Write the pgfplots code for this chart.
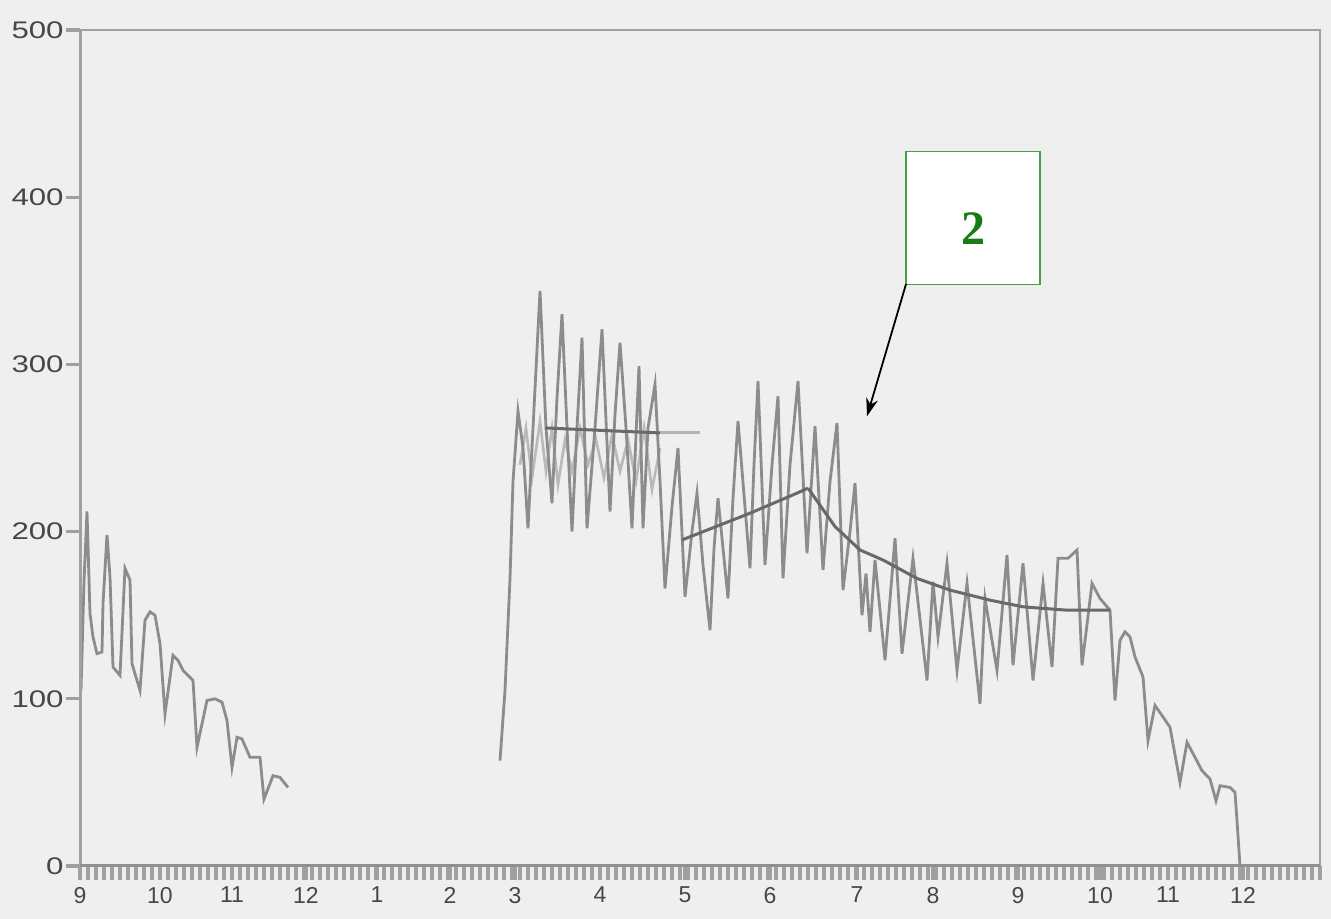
\documentclass[border=0pt]{standalone}
\usepackage{pgfplots}
\pgfplotsset{compat=1.18}
\usepackage{fontspec}
\setmainfont{Liberation Sans}
\newfontfamily\ytickfont[FakeStretch=1.3]{Liberation Sans}
\newfontfamily\annfont{Liberation Serif}
\usetikzlibrary{arrows.meta}
\definecolor{bgc}{RGB}{239,239,239}
\definecolor{linec}{RGB}{140,140,140}
\definecolor{lightc}{RGB}{185,185,185}
\definecolor{trendc}{RGB}{105,105,105}
\definecolor{framec}{RGB}{160,160,160}
\definecolor{boxgreen}{RGB}{70,160,70}
\definecolor{txtgreen}{RGB}{20,125,20}
\begin{document}
\begin{tikzpicture}
\fill[bgc] (-40pt,-26.5pt) rectangle (625.5pt,433pt);
\begin{axis}[
  scale only axis,
  width=620pt, height=418pt,
  xmin=80, xmax=1320, ymin=0, ymax=500,
  axis line style={draw=framec, line width=1.1pt},
  xtick={80,160,232,306,377,450,515,600,685,770,857,933,1018,1100,1168,1243},
  xticklabels={9,10,11,12,1,2,3,4,5,6,7,8,9,10,11,12},
  minor xtick={80,88,...,1320},
  ytick={0,100,200,300,400,500},
  tick align=outside,
  major tick length=7pt, minor tick length=7pt,
  every tick/.style={draw=framec, line width=1.6pt},
  x tick label style={font=\fontsize{11.5}{12}\selectfont, text=black!72},
  y tick label style={font=\ytickfont\fontsize{12}{12}\selectfont, text=black!72, inner sep=1pt},
  /pgf/number format/assume math mode=true,
  xtick pos=bottom, ytick pos=left,
  clip=true,
]
% lighter overlapping trace (3--5)
\addplot[lightc, line width=1.3pt] coordinates {
(520,240) (526,262) (532,232) (540,266) (546,236) (552,262) (558,228) (565,255)
(572,236) (580,262) (588,240) (596,255) (604,232) (612,258) (620,236) (628,255)
(636,230) (644,262) (652,225) (660,250)
};
% Season 1
\addplot[linec, line width=1.4pt] coordinates {
(81,105) (84,170) (87,212) (90,151) (93,137) (97,127) (102,128) (103,157) (107,198)
(110,173) (113,119) (120,114) (125,178) (130,171) (132,121) (140,105) (145,147)
(150,152) (155,150) (160,133) (165,91) (173,126) (178,123) (183,117) (188,114)
(193,111) (197,71) (207,99) (215,100) (222,98) (227,87) (232,59) (237,77)
(242,76) (250,65) (260,65) (264,40) (273,54) (280,53) (288,47)
};
% Season 2
\addplot[linec, line width=1.4pt] coordinates {
(500,63) (505,105) (510,172) (513,230) (518,272) (523,250) (528,202) (533,262)
(540,344) (546,262) (552,217) (557,280) (562,330) (567,262) (572,200) (577,262)
(582,316) (587,202) (595,262) (602,321) (610,212) (615,270) (620,313) (626,262)
(632,202) (639,299) (643,202) (648,262) (655,288) (660,230) (665,166) (672,215)
(678,250) (685,161) (692,200) (697,223) (703,180) (710,141) (714,190) (718,220)
(728,160) (733,220) (738,266) (750,178) (754,240) (758,290) (765,180) (772,240)
(778,281) (783,172) (790,240) (798,290) (807,187) (815,263) (823,177) (830,230)
(837,265) (843,165) (850,200) (855,229) (862,150) (866,175) (870,140) (875,183)
(885,123) (895,196) (902,127) (913,184) (927,111) (933,170) (938,137) (947,181)
(957,117) (967,169) (980,97) (985,160) (997,117) (1007,186) (1013,120) (1023,181)
(1033,111) (1043,169) (1052,119) (1058,184) (1068,184) (1077,189) (1082,120)
(1092,169) (1100,160) (1110,153) (1115,99) (1120,135) (1125,140) (1130,137)
(1135,125) (1143,113) (1148,75) (1155,96) (1162,90) (1170,83) (1180,50) (1187,74)
(1195,65) (1202,57) (1210,52) (1216,39) (1220,48) (1230,47) (1235,44) (1237,27)
(1240,0)
};
% trend lines
\addplot[trendc, line width=1.5pt] coordinates {(545,262) (660,259)};
\addplot[trendc!50, line width=1.5pt] coordinates {(660,259) (700,259)};
\addplot[trendc, line width=1.5pt] coordinates {(682,195) (750,211) (797,223) (808,226)};
\addplot[trendc, line width=1.5pt] coordinates {(808,226) (835,203) (860,189) (883,183)
 (917,172) (950,165) (990,159) (1023,155) (1067,153) (1110,153)};
% left and bottom axis lines (thicker)
\draw[framec, line width=2.4pt] (axis cs:80,0) -- (axis cs:80,500);
\draw[framec!90!black, line width=2.4pt] (axis cs:80,0) -- (axis cs:1320,0);
% annotation
\draw[boxgreen, line width=0.6pt, fill=white] (axis cs:906,348) rectangle (axis cs:1040,427.5);
\node[text=txtgreen, font=\annfont\bfseries\fontsize{24}{24}\selectfont] at (axis cs:973,381) {2};
\draw[black, line width=0.9pt, -{Stealth[length=9pt,width=6pt]}] (axis cs:906,348) -- (axis cs:867,269);
\end{axis}
\pgfresetboundingbox
\useasboundingbox (-40pt,-26.5pt) rectangle (625.5pt,433pt);
\end{tikzpicture}
\end{document}
